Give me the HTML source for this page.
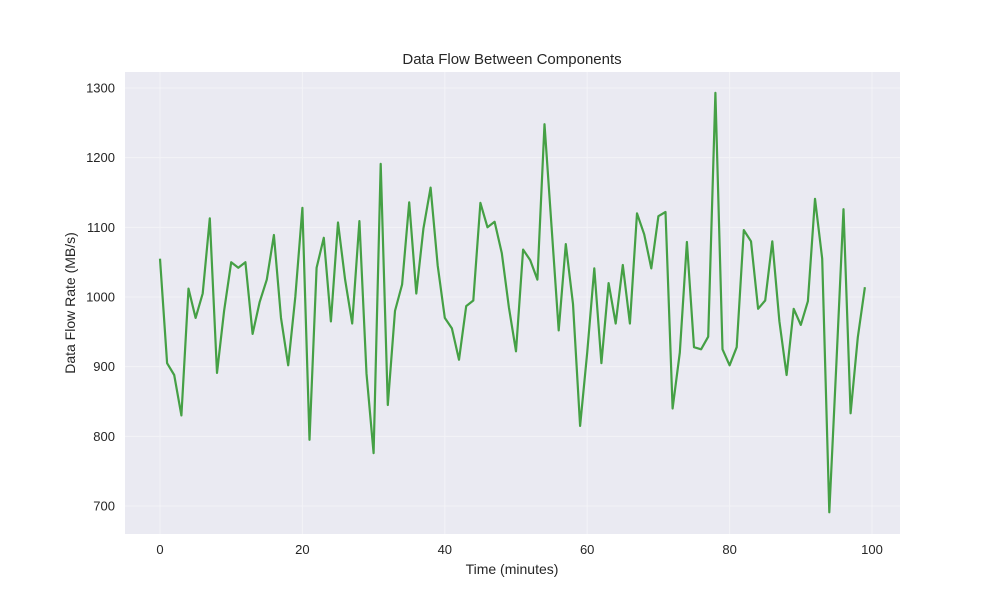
<!DOCTYPE html>
<html><head><meta charset="utf-8"><style>
body{margin:0;background:#fff;}
svg text{font-family:"Liberation Sans",Arial,sans-serif;fill:#262626;}
</style></head><body>
<svg id="chart" width="1000" height="600" xmlns="http://www.w3.org/2000/svg">
<rect x="125" y="72" width="775" height="462" fill="#eaeaf2"/>
<g id="grid"></g>
<g id="ticks"></g>
<path id="line" fill="none" stroke="#45a045" stroke-width="2.2" stroke-linejoin="round"/>
<text x="512" y="64" text-anchor="middle" font-size="15">Data Flow Between Components</text>
<text x="512" y="574" text-anchor="middle" font-size="14">Time (minutes)</text>
<text transform="translate(75,303) rotate(-90)" text-anchor="middle" font-size="14">Data Flow Rate (MB/s)</text>
</svg>
<script>
const yValues=[1055,905,888,830,1012,970,1005,1113,891,980,1050,1042,1050,947,993,1025,1089,970,902,1000,1128,795,1042,1085,965,1107,1025,962,1109,890,776,1191,845,980,1018,1136,1005,1098,1157,1045,970,955,910,987,995,1135,1100,1108,1063,985,922,1068,1053,1025,1248,1100,952,1076,990,815,920,1041,905,1020,962,1046,962,1120,1090,1041,1116,1122,840,920,1079,928,925,943,1293,925,902,928,1096,1080,983,995,1080,965,888,983,960,994,1141,1055,691,905,1126,833,942,1014];
const xTicks=[0,20,40,60,80,100];
const yTicks=[700,800,900,1000,1100,1200,1300];
const NS="http://www.w3.org/2000/svg";
const xs=v=>160+v*7.12;
const ys=v=>506-(v-700)*418/600;
const grid=document.getElementById('grid'),ticks=document.getElementById('ticks');
xTicks.forEach(t=>{
  const l=document.createElementNS(NS,'line');
  
  
  l.setAttribute('x1',xs(t));l.setAttribute('x2',xs(t));l.setAttribute('y1',72);l.setAttribute('y2',534);
  l.setAttribute('stroke','#f3f3f7');l.setAttribute('stroke-width','1');
  grid.appendChild(l);
  const tx=document.createElementNS(NS,'text');
  
  
  tx.setAttribute('x',xs(t));tx.setAttribute('y',554);tx.setAttribute('text-anchor','middle');tx.setAttribute('font-size','13');
  tx.textContent=t;ticks.appendChild(tx);
});
yTicks.forEach(t=>{
  const l=document.createElementNS(NS,'line');
  
  
  l.setAttribute('x1',125);l.setAttribute('x2',900);l.setAttribute('y1',ys(t));l.setAttribute('y2',ys(t));
  l.setAttribute('stroke','#f3f3f7');l.setAttribute('stroke-width','1');
  grid.appendChild(l);
  const tx=document.createElementNS(NS,'text');
  
  
  tx.setAttribute('x',115);tx.setAttribute('y',ys(t)+4.5);tx.setAttribute('text-anchor','end');tx.setAttribute('font-size','13');
  tx.textContent=t;ticks.appendChild(tx);
});
document.getElementById('line').setAttribute('d',yValues.map((v,i)=>(i?'L':'M')+xs(i).toFixed(1)+','+ys(v).toFixed(1)).join(''));
</script>
</body></html>
